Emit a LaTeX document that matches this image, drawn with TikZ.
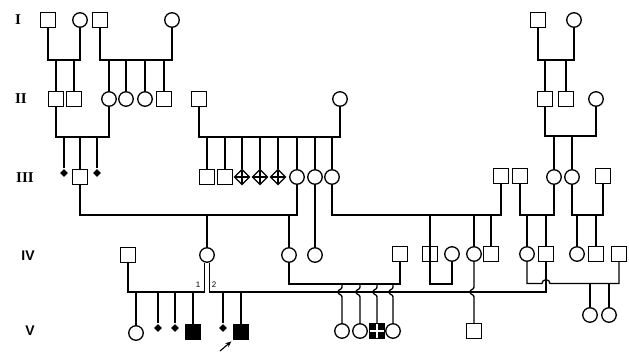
\documentclass[tikz,border=0pt]{standalone}
\usepackage{fontspec}
\setmainfont{Liberation Serif}
\newfontfamily\labsans{Liberation Sans}
\usetikzlibrary{shapes.geometric,arrows.meta}
\begin{document}
\begin{tikzpicture}[x=1pt,y=-1pt,line width=1.3pt,
  sq/.style={draw,rectangle,minimum size=15pt,inner sep=0pt},
  ci/.style={draw,circle,minimum size=14.5pt,inner sep=0pt},
  fd/.style={diamond,fill=black,minimum size=8.5pt,inner sep=0pt},
  pd/.style={diamond,draw,minimum size=15.5pt,inner sep=0pt,
    path picture={\draw[line width=1.3pt] (path picture bounding box.north) -- (path picture bounding box.south)
      (path picture bounding box.west) -- (path picture bounding box.east);}},
  fsq/.style={sq,fill=black},
  csq/.style={sq,fill=black,
    path picture={\draw[white,line width=1.4pt] (path picture bounding box.north) -- (path picture bounding box.south)
      (path picture bounding box.west) -- (path picture bounding box.east);}},
  gen/.style={font=\bfseries\fontsize{15}{15}\selectfont,inner sep=0pt},
  gens/.style={font=\labsans\bfseries\fontsize{14}{14}\selectfont,inner sep=0pt},
  num/.style={font=\labsans\fontsize{8}{8}\selectfont,inner sep=0pt}]
\useasboundingbox (0,0) rectangle (629,351);

% generation labels
\node[gen] (gI) at (18,20) {I};
\node[gen] (gII) at (21,99) {II};
\node[gen] (gIII) at (25,178) {III};
\node[gens] (gIV) at (28,256) {IV};
\node[gens] (gV) at (30,331) {V};

% generation I
\node[sq] (I1) at (48,20) {};
\node[ci] (I2) at (80,20) {};
\node[sq] (I3) at (100,20) {};
\node[ci] (I4) at (172,20) {};
\node[sq] (I5) at (538,20) {};
\node[ci] (I6) at (574,20) {};

% generation II
\node[sq] (II1) at (56,99) {};
\node[sq] (II2) at (74,99) {};
\node[ci] (II3) at (109,99) {};
\node[ci] (II4) at (126,99) {};
\node[ci] (II5) at (145,99) {};
\node[sq] (II6) at (164,99) {};
\node[sq] (II7) at (199,99) {};
\node[ci] (II8) at (340,99) {};
\node[sq] (II9) at (545,99) {};
\node[sq] (II10) at (566,99) {};
\node[ci] (II11) at (596,99) {};

% generation III
\node[fd] (III1) at (64,173) {};
\node[sq] (III2) at (80,177) {};
\node[fd] (III3) at (97,173) {};
\node[sq] (III4) at (207,177) {};
\node[sq] (III5) at (225,177) {};
\node[pd] (III6) at (242,177) {};
\node[pd] (III7) at (260,177) {};
\node[pd] (III8) at (278,177) {};
\node[ci] (III9) at (297,177) {};
\node[ci] (III10) at (315,177) {};
\node[ci] (III11) at (332,177) {};
\node[sq] (III12) at (501,176) {};
\node[sq] (III13) at (520,176) {};
\node[ci] (III14) at (554,177) {};
\node[ci] (III15) at (572,177) {};
\node[sq] (III16) at (603,176) {};

% generation IV
\node[sq] (IV1) at (128,255) {};
\node[ci] (IV2) at (207,255) {};
\node[ci] (IV3) at (289,255) {};
\node[ci] (IV4) at (315,255) {};
\node[sq] (IV5) at (400,254) {};
\node[sq] (IV6) at (430,254) {};
\node[ci] (IV7) at (452,254) {};
\node[ci] (IV8) at (474,254) {};
\node[sq] (IV9) at (491,254) {};
\node[ci] (IV10) at (527,254) {};
\node[sq] (IV11) at (546,254) {};
\node[ci] (IV12) at (577,254) {};
\node[sq] (IV13) at (596,254) {};
\node[sq] (IV14) at (619,254) {};

% generation V
\node[ci] (V1) at (136,333) {};
\node[fd] (V2) at (158,328) {};
\node[fd] (V3) at (175,328) {};
\node[fsq] (V4) at (193,332) {};
\node[fd] (V5) at (223,328) {};
\node[fsq] (V6) at (241,332) {};
\node[ci] (V7) at (342,331) {};
\node[ci] (V8) at (360,331) {};
\node[csq] (V9) at (377,331) {};
\node[ci] (V10) at (393,331) {};
\node[sq] (V11) at (474,331) {};
\node[ci] (V12) at (590,315) {};
\node[ci] (V13) at (609,315) {};

% I -> II
\draw (I1.south) -- (I1.south |- 0,60) -| (I2.south);
\foreach \c in {II1,II2} \draw (\c.north) -- (\c.north |- 0,60);
\draw (I3.south) -- (I3.south |- 0,60) -| (I4.south);
\foreach \c in {II3,II4,II5,II6} \draw (\c.north) -- (\c.north |- 0,60);
\draw (I5.south) -- (I5.south |- 0,60) -| (I6.south);
\foreach \c in {II9,II10} \draw (\c.north) -- (\c.north |- 0,60);

% II -> III
\draw (II1.south) -- (II1.south |- 0,137) -| (II3.south);
\foreach \c in {III1,III2,III3} \draw (\c.north) -- (\c.north |- 0,137);
\draw (II7.south) -- (II7.south |- 0,137) -| (II8.south);
\foreach \c in {III4,III5,III6,III7,III8,III9,III10,III11} \draw (\c.north) -- (\c.north |- 0,137);
\draw (II9.south) -- (II9.south |- 0,136) -| (II11.south);
\foreach \c in {III14,III15} \draw (\c.north) -- (\c.north |- 0,136);

% III -> IV
\draw (III2.south) -- (III2.south |- 0,215) -| (III9.south);
\foreach \c in {IV2,IV3} \draw (\c.north) -- (\c.north |- 0,215);
\draw (III10.south) -- (IV4.north);
\draw (III11.south) -- (III11.south |- 0,215) -| (III12.south);
\foreach \c in {IV6,IV8,IV9} \draw (\c.north) -- (\c.north |- 0,215);
\draw (III13.south) -- (III13.south |- 0,215) -| (III14.south);
\foreach \c in {IV10,IV11} \draw (\c.north) -- (\c.north |- 0,215);
\draw (III15.south) -- (III15.south |- 0,215) -| (III16.south);
\foreach \c in {IV12,IV13} \draw (\c.north) -- (\c.north |- 0,215);

% IV marriages
\draw (IV1.south) -- (IV1.south |- 0,292) -| (IV2.254);
\draw (IV2.286) -- (IV2.286 |- 0,292) -| (IV11.south);
\node[num] (lab1) at (198,285) {1};
\node[num] (lab2) at (214,285) {2};
\foreach \c in {V1,V2,V3,V4,V5,V6} \draw (\c.north) -- (\c.north |- 0,292);
\draw (IV3.south) -- (IV3.south |- 0,284) -| (IV5.south);
\foreach \c in {V7,V8,V9,V10}
  \draw (\c.north) -- (\c.north |- 0,297) .. controls +(0,-3) and +(0,3) .. ++(-4,-5)
        .. controls +(0,-3) and +(0,3) .. ++(4,-5) -- (\c.north |- 0,284);
\draw (IV6.north) -- (IV6.south |- 0,284) -| (IV7.south);
\draw (V11.north) -- (V11.north |- 0,297) .. controls +(0,-3) and +(0,3) .. ++(-4,-5)
        .. controls +(0,-3) and +(0,3) .. ++(4,-5) -- (IV8.south);
\draw (IV10.south) -- (IV10.south |- 0,283.5) -- (542,283.5) .. controls (542,278.5) and (550,278.5) .. (550,283.5)
      -| (IV14.south);
\foreach \c in {V12,V13} \draw (\c.north) -- (\c.north |- 0,283.5);

% proband arrow
\coordinate (arrtail) at (220,351);
\draw[line width=1.1pt,-{Stealth[length=6pt,width=5pt]},shorten >=2pt] (arrtail) -- (V6.south west);
\end{tikzpicture}
\end{document}
